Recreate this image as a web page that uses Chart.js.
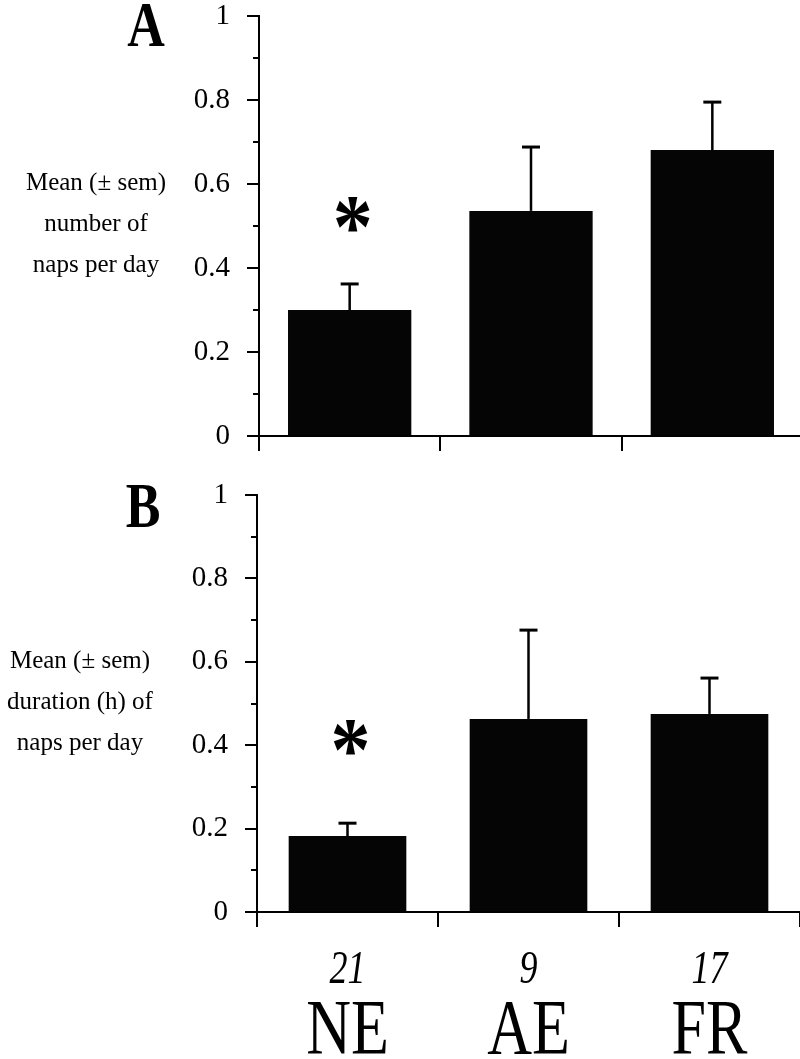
<!DOCTYPE html>
<html>
<head>
<meta charset="utf-8">
<script src="https://cdn.jsdelivr.net/npm/chart.js@4"></script>
<style>
  html, body { margin: 0; padding: 0; background: #fff; }
  #wrap { position: relative; width: 800px; height: 1059px; overflow: hidden; background: #fff; }
  #wrap canvas { position: absolute; left: 0; }
  .ytitle { position: absolute; width: 200px; text-align: center; font: 25px "Liberation Serif", "Times New Roman", serif; line-height: 41px; color: #000; white-space: nowrap; }
  .letter { position: absolute; width: 100px; text-align: center; font: bold 52px "Liberation Serif", "Times New Roman", serif; line-height: 52px; color: #000; transform: scaleY(1.2); transform-origin: 50% 43.5px; }
</style>
</head>
<body>
<div id="wrap">
  <canvas id="chartA" width="803" height="460" style="top:0"></canvas>
  <canvas id="chartB" width="800" height="589" style="top:470px"></canvas>
  <div class="letter" style="left:96px;top:3px">A</div>
  <div class="letter" style="left:93px;top:484px">B</div>
  <div class="ytitle" style="left:-4px;top:161px">Mean (± sem)<br>number of<br>naps per day</div>
  <div class="ytitle" style="left:-20px;top:639px">Mean (± sem)<br>duration (h) of<br>naps per day</div>
</div>
<script>
/* Siestas: número y duración por grupo */
const categories = ['NE', 'AE', 'FR'];
const groupN = ['21', '9', '17'];
const napsMean = [0.30, 0.536, 0.681];
const napsSem = [0.062, 0.152, 0.114];
const durMean = [0.182, 0.463, 0.475];
const durSem = [0.031, 0.213, 0.086];
const majorTicks = [0, 0.2, 0.4, 0.6, 0.8, 1];
const starIndex = 0;      // grupo con diferencia significativa
const starA = 0.53;       // altura del asterisco en A
const starB = 0.42;       // altura del asterisco en B

const SERIF = '"Liberation Serif", "Times New Roman", serif';
const isMajor = (v) => v != null && majorTicks.some((m) => Math.abs(m - v) < 1e-6);

function stretchedText(ctx, text, x, y, font, sy, center) {
  ctx.save();
  ctx.translate(x, y);
  ctx.scale(1, sy);
  ctx.font = font;
  ctx.fillStyle = '#000';
  ctx.textAlign = 'center';
  ctx.textBaseline = 'alphabetic';
  let dy = 0;
  if (center) { const m = ctx.measureText(text); dy = (m.actualBoundingBoxAscent - m.actualBoundingBoxDescent) / 2; }
  ctx.fillText(text, 0, dy);
  ctx.restore();
}

const errorBars = (sems) => ({
  id: 'errorBars',
  afterDatasetsDraw(chart) {
    const { ctx } = chart;
    const y = chart.scales.y;
    const ds = chart.data.datasets[0].data;
    chart.getDatasetMeta(0).data.forEach((bar, i) => {
      const top = y.getPixelForValue(ds[i] + sems[i]);
      ctx.save();
      ctx.strokeStyle = '#000';
      ctx.lineWidth = 2.5;
      ctx.beginPath(); ctx.moveTo(bar.x, bar.y); ctx.lineTo(bar.x, top); ctx.stroke();
      ctx.lineWidth = 3;
      ctx.beginPath(); ctx.moveTo(bar.x - 9, top); ctx.lineTo(bar.x + 9, top); ctx.stroke();
      ctx.restore();
    });
  },
});

const minorTicks = {
  id: 'minorTicks',
  afterDraw(chart) {
    const { ctx } = chart;
    const y = chart.scales.y;
    ctx.save();
    ctx.strokeStyle = '#000';
    ctx.lineWidth = 2;
    y.ticks.forEach((t) => {
      if (isMajor(t.value)) return;
      const py = Math.round(y.getPixelForValue(t.value));
      ctx.beginPath(); ctx.moveTo(y.right - 6, py); ctx.lineTo(y.right, py); ctx.stroke();
    });
    ctx.restore();
  },
};

const star = (value) => ({
  id: 'star',
  afterDraw(chart) {
    const x = chart.scales.x.getPixelForValue(starIndex) + 3;
    const y = chart.scales.y.getPixelForValue(value);
    stretchedText(chart.ctx, '*', x, y, 'bold 80px ' + SERIF, 1.15, true);
  },
});

const groupLabels = {
  id: 'groupLabels',
  afterDraw(chart) {
    const xs = chart.scales.x;
    const base = chart.chartArea.bottom;
    categories.forEach((c, i) => {
      const x = xs.getPixelForValue(i);
      stretchedText(chart.ctx, groupN[i], x, base + 71, 'italic 36px ' + SERIF, 1.3);
      stretchedText(chart.ctx, c, x, base + 141, '62px ' + SERIF, 1.25);
    });
  },
};

function panel(id, means, sems, cfg) {
  return new Chart(document.getElementById(id), {
    type: 'bar',
    data: {
      labels: categories,
      datasets: [{ data: means, backgroundColor: '#050505', borderWidth: 0, barPercentage: cfg.barPct, categoryPercentage: 1 }],
    },
    options: {
      responsive: false,
      animation: false,
      devicePixelRatio: 1,
      layout: { padding: { top: cfg.top, left: 0, right: 0, bottom: 0 } },
      plugins: { legend: { display: false }, tooltip: { enabled: false } },
      scales: {
        x: {
          grid: { drawOnChartArea: false, tickLength: 15, color: '#000', lineWidth: 2 },
          border: { color: '#000', width: 2 },
          ticks: { display: false },
          afterFit: (s) => { s.height = cfg.xh; },
        },
        y: {
          min: 0, max: 1,
          ticks: {
            stepSize: 0.1, autoSkip: false, padding: 17, color: '#000',
            font: { family: SERIF, size: 29 },
            callback: (v) => (isMajor(v) ? String(Math.round(v * 10) / 10) : ''),
          },
          grid: {
            drawOnChartArea: false, tickLength: 12, lineWidth: 2,
            color: (c) => (isMajor(c.tick && c.tick.value) ? '#000' : 'rgba(0,0,0,0)'),
          },
          border: { color: '#000', width: 2 },
          afterFit: (s) => { s.width = cfg.yw; s.paddingTop = 0; s.paddingBottom = 0; },
        },
      },
    },
    plugins: [errorBars(sems), minorTicks, star(cfg.star)].concat(cfg.extra || []),
  });
}

panel('chartA', napsMean, napsSem, { top: 16, yw: 259, xh: 24, barPct: 0.68, star: starA });
panel('chartB', durMean, durSem, { top: 25, yw: 257, xh: 147, barPct: 0.65, star: starB, extra: [groupLabels] });
</script>
</body>
</html>
